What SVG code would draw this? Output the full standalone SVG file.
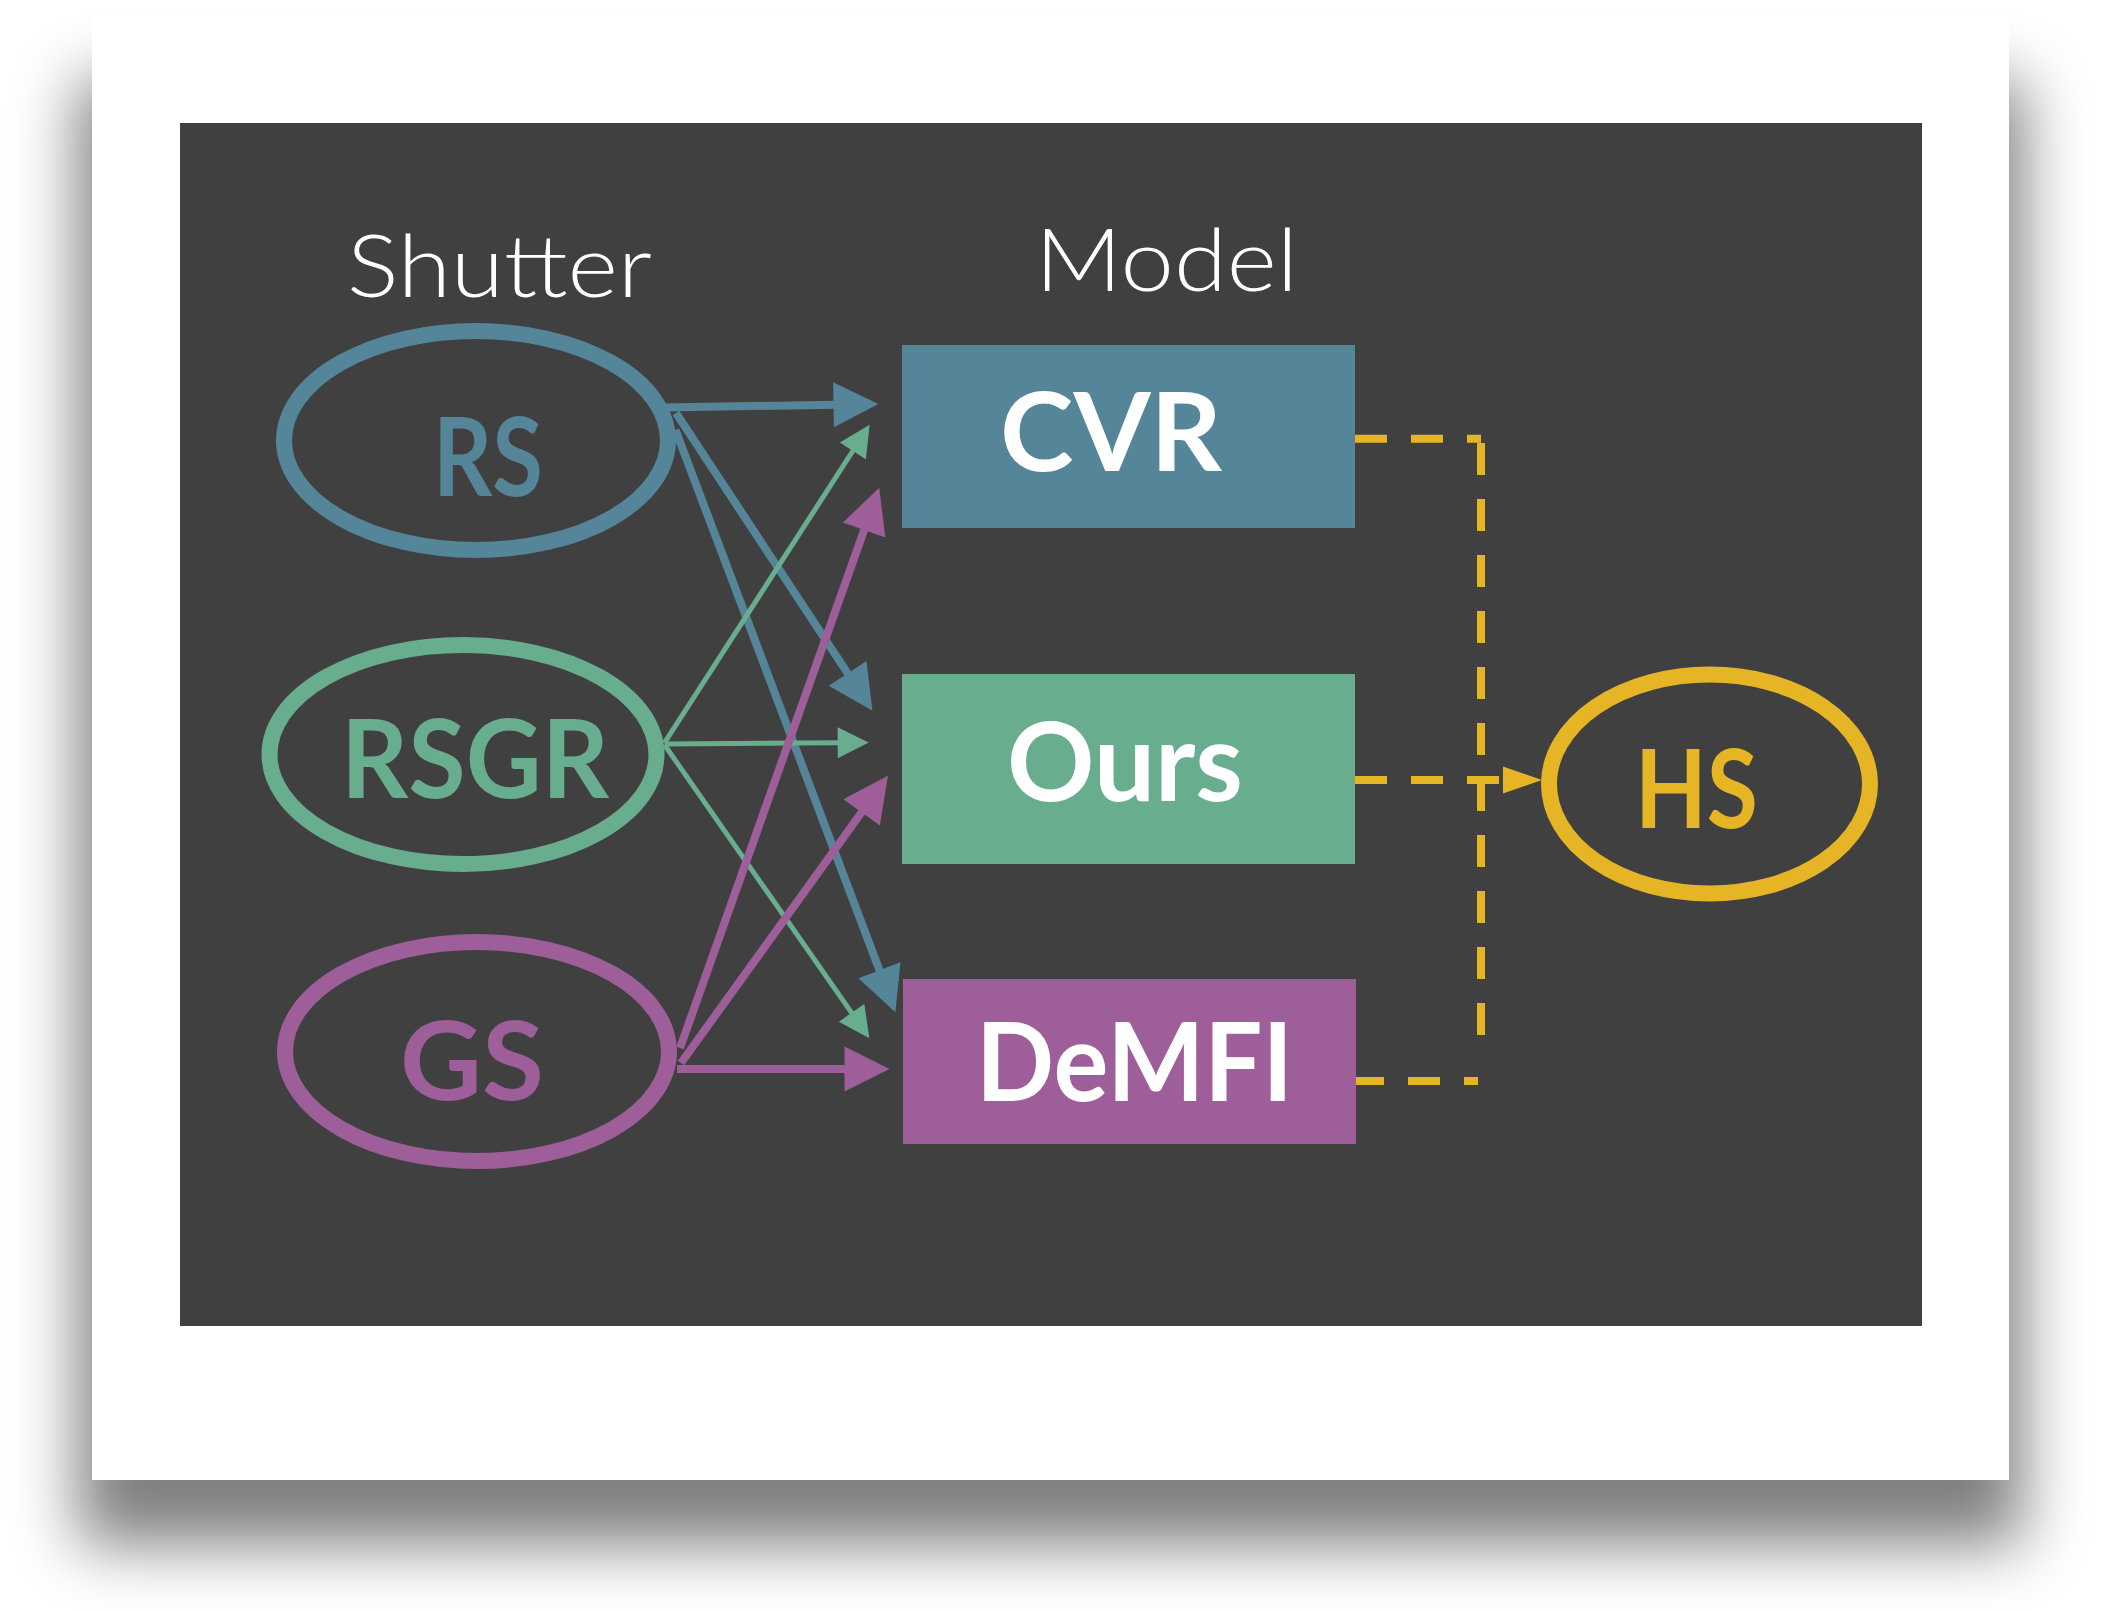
<svg xmlns="http://www.w3.org/2000/svg" width="2102" height="1611" viewBox="0 0 2102 1611">
<defs>
<filter id="shadow" x="-10%" y="-10%" width="120%" height="125%"><feGaussianBlur stdDeviation="32"/></filter>
<marker id="mBlue" markerUnits="userSpaceOnUse" markerWidth="46" markerHeight="46" refX="1" refY="22.5" orient="auto" overflow="visible"><path d="M0,0 L45,22.5 L0,45 Z" fill="#548599"/></marker>
<marker id="mGreen" markerUnits="userSpaceOnUse" markerWidth="32" markerHeight="32" refX="1" refY="15.5" orient="auto" overflow="visible"><path d="M0,0 L31,15.5 L0,31 Z" fill="#69AD8F"/></marker>
<marker id="mPurple" markerUnits="userSpaceOnUse" markerWidth="46" markerHeight="46" refX="1" refY="22.5" orient="auto" overflow="visible"><path d="M0,0 L45,22.5 L0,45 Z" fill="#9D5E9A"/></marker>
<marker id="mYellow" markerUnits="userSpaceOnUse" markerWidth="40" markerHeight="28" refX="0" refY="13.5" orient="auto" overflow="visible"><path d="M0,0 L39,13.5 L0,27 Z" fill="#E5B526"/></marker>
</defs>
<style>
.lbl{font-family:Lato,"Liberation Sans",sans-serif;font-weight:700;font-size:110px}
.ttl{font-family:Lato,"Open Sans","Liberation Sans",sans-serif;font-weight:300;font-size:86px;fill:#ffffff}
.ell{fill:none;stroke-width:16}
.blue{stroke:#548599}
.green{stroke:#69AD8F}
.purple{stroke:#9D5E9A}
.yellow{stroke:#E5B526}
.thick{stroke-width:8;fill:none}
.thin{stroke-width:5;fill:none}
.dash{stroke:#E5B526;stroke-width:8;fill:none;stroke-dasharray:32 24}
</style>
<rect x="0" y="0" width="2102" height="1611" fill="#ffffff"/>
<rect x="78" y="80" width="1945" height="1465" fill="#000000" opacity="0.5" filter="url(#shadow)"/>
<rect x="92" y="14" width="1917" height="1466" fill="#ffffff"/>
<rect x="180" y="123" width="1742" height="1203" fill="#404040"/>

<text class="ttl" x="347" y="297" textLength="305" lengthAdjust="spacingAndGlyphs">Shutter</text>
<text class="ttl" x="1035" y="291" textLength="263" lengthAdjust="spacingAndGlyphs">Model</text>

<g id="connectors">
<line class="blue thick" x1="664" y1="407.5" x2="834.5" y2="404.7" marker-end="url(#mBlue)"/>
<line class="blue thick" x1="676" y1="413" x2="848.2" y2="674.1" marker-end="url(#mBlue)"/>
<line class="blue thick" x1="675.5" y1="430" x2="879.8" y2="971.2" marker-end="url(#mBlue)"/>
<line class="green thin" x1="664.6" y1="742.7" x2="853.4" y2="450" marker-end="url(#mGreen)"/>
<line class="green thin" x1="664.6" y1="744" x2="838.7" y2="742.7" marker-end="url(#mGreen)"/>
<line class="green thin" x1="664.6" y1="745" x2="852.2" y2="1013.6" marker-end="url(#mGreen)"/>
<line class="purple thick" x1="680" y1="1048" x2="864.5" y2="529.1" marker-end="url(#mPurple)"/>
<line class="purple thick" x1="681" y1="1063" x2="862.2" y2="811.5" marker-end="url(#mPurple)"/>
<line class="purple thick" x1="677" y1="1069" x2="845.5" y2="1069" marker-end="url(#mPurple)"/>
<path class="dash" d="M1355,438.7 H1481"/>
<path class="dash" d="M1481,443 V1036"/>
<path class="dash" d="M1352,1081 H1478"/>
<path class="dash" d="M1355,780 H1503" marker-end="url(#mYellow)"/>
</g>

<g id="node-rs">
<ellipse class="ell blue" cx="476" cy="440.5" rx="192" ry="109.5"/>
<text class="lbl" x="433" y="496" fill="#548599" textLength="110" lengthAdjust="spacingAndGlyphs">RS</text>
</g>
<g id="node-rsgr">
<ellipse class="ell green" cx="463" cy="754.5" rx="193.5" ry="109.5"/>
<text class="lbl" x="341" y="798" fill="#69AD8F" textLength="268" lengthAdjust="spacingAndGlyphs">RSGR</text>
</g>
<g id="node-gs">
<ellipse class="ell purple" cx="477" cy="1051.5" rx="192" ry="109.5"/>
<text class="lbl" x="400" y="1100" fill="#9D5E9A" textLength="144" lengthAdjust="spacingAndGlyphs">GS</text>
</g>
<g id="node-cvr">
<rect x="902" y="345" width="453" height="183" fill="#548599"/>
<text class="lbl" x="1000" y="471" fill="#ffffff" textLength="222" lengthAdjust="spacingAndGlyphs">CVR</text>
</g>
<g id="node-ours">
<rect x="902" y="674" width="453" height="190" fill="#69AD8F"/>
<text class="lbl" x="1007" y="801" fill="#ffffff" textLength="236" lengthAdjust="spacingAndGlyphs">Ours</text>
</g>
<g id="node-demfi">
<rect x="903" y="979" width="453" height="165" fill="#9D5E9A"/>
<text class="lbl" x="976" y="1101" fill="#ffffff" textLength="317" lengthAdjust="spacingAndGlyphs">DeMFI</text>
</g>
<g id="node-hs">
<ellipse class="ell yellow" cx="1709.5" cy="784" rx="160.5" ry="109.5"/>
<text class="lbl" x="1635" y="828" fill="#E5B526" textLength="123" lengthAdjust="spacingAndGlyphs">HS</text>
</g>
</svg>
